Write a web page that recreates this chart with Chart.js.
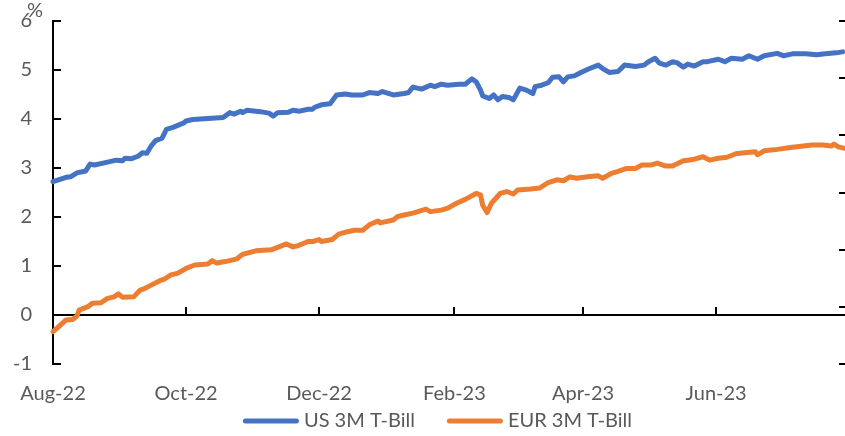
<!DOCTYPE html>
<html><head><meta charset="utf-8">
<script src="https://cdn.jsdelivr.net/npm/chart.js@4.4.0/dist/chart.umd.min.js"></script>
<style>
html,body{margin:0;padding:0;overflow:hidden;background:#fff;width:845px;height:436px;}
#wrap{position:relative;width:875px;height:436px;}
</style></head><body>
<div id="wrap"><canvas id="c"></canvas></div>
<script>
// x values are days since 1 Aug 2022
const tickDays=[0,61,122,184,243,304];
const tickLabels=['Aug-22','Oct-22','Dec-22','Feb-23','Apr-23','Jun-23'];
const seriesNames=['US 3M T-Bill','EUR 3M T-Bill'];
const usDays=[0,6,8,11,15,17,19,24,29,32,33,36,39,41,43,45,47,50,52,55,60,61,64,71,78,81,83,86,87,89,95,99,101,103,108,110,113,117,119,120,123,127,130,134,137,142,145,149,151,156,161,163,165,169,173,175,178,181,186,189,192,194,196,197,200,202,204,206,209,211,214,217,220,221,224,227,229,232,234,236,239,242,246,250,252,255,259,262,267,271,273,276,278,281,284,286,289,291,294,298,300,305,308,311,316,319,323,326,332,335,339,345,350,354,359,362];
const usVals=[2.72,2.81,2.82,2.90,2.94,3.08,3.06,3.11,3.16,3.15,3.20,3.19,3.24,3.31,3.30,3.45,3.56,3.61,3.79,3.83,3.92,3.96,3.99,4.01,4.03,4.13,4.10,4.16,4.13,4.18,4.15,4.12,4.06,4.13,4.14,4.18,4.16,4.20,4.20,4.24,4.29,4.31,4.49,4.51,4.49,4.49,4.54,4.52,4.56,4.49,4.52,4.54,4.65,4.61,4.69,4.66,4.71,4.69,4.71,4.71,4.82,4.76,4.59,4.47,4.42,4.49,4.39,4.46,4.44,4.39,4.63,4.59,4.52,4.66,4.69,4.74,4.85,4.86,4.76,4.86,4.88,4.95,5.03,5.10,5.03,4.95,4.97,5.10,5.07,5.10,5.17,5.24,5.14,5.10,5.17,5.15,5.06,5.12,5.08,5.17,5.17,5.22,5.17,5.24,5.22,5.29,5.22,5.29,5.34,5.29,5.33,5.33,5.31,5.33,5.35,5.37];
const eurDays=[0,3,6,9,11,12,16,18,22,25,28,30,32,37,40,42,45,49,51,54,57,61,65,71,73,75,79,84,87,93,100,103,107,110,112,117,119,122,123,128,131,135,138,142,145,149,150,156,158,161,165,171,173,178,181,185,189,194,196,197,199,201,205,208,211,213,219,223,227,231,234,237,240,245,250,252,256,259,263,267,270,274,277,281,284,289,291,294,298,301,305,309,313,317,322,323,326,332,338,344,348,353,357,358,360,363];
const eurVals=[-0.34,-0.22,-0.10,-0.09,-0.02,0.10,0.17,0.24,0.25,0.34,0.37,0.43,0.36,0.37,0.51,0.54,0.61,0.70,0.73,0.82,0.85,0.95,1.02,1.04,1.11,1.06,1.09,1.14,1.24,1.31,1.33,1.38,1.45,1.39,1.41,1.50,1.50,1.54,1.50,1.54,1.65,1.70,1.73,1.73,1.84,1.92,1.88,1.94,2.01,2.04,2.08,2.16,2.11,2.14,2.18,2.28,2.36,2.48,2.45,2.24,2.09,2.28,2.48,2.52,2.47,2.55,2.57,2.59,2.70,2.76,2.74,2.82,2.79,2.82,2.84,2.79,2.89,2.93,2.99,2.99,3.06,3.06,3.10,3.04,3.04,3.15,3.16,3.18,3.23,3.16,3.20,3.22,3.29,3.31,3.33,3.27,3.35,3.38,3.42,3.45,3.47,3.47,3.45,3.49,3.43,3.40];

const FONT='Lato, "Open Sans", sans-serif';
const FS=20;
const TXT='#595959';
const toXY=(d,v)=>d.map((x,i)=>({x:x,y:v[i]}));

const axisMarks={
  id:'axisMarks',
  beforeDatasetsDraw(chart){
    const {ctx,chartArea:a,scales}=chart;
    const x=scales.x,y=scales.y,y1=scales.y1;
    ctx.save();
    ctx.strokeStyle='#000';ctx.lineWidth=2;
    const y0=Math.round(y.getPixelForValue(0));
    ctx.beginPath();
    tickDays.forEach(d=>{ if(d>0){const px=Math.round(x.getPixelForValue(d));ctx.moveTo(px,y0);ctx.lineTo(px,y0-8);} });
    y.ticks.forEach(t=>{const py=Math.round(y.getPixelForValue(t.value));ctx.moveTo(a.left,py);ctx.lineTo(a.left+8,py);});
    y1.ticks.forEach(t=>{const py=Math.round(y1.getPixelForValue(t.value));ctx.moveTo(a.right,py);ctx.lineTo(a.right-8,py);});
    ctx.stroke();
    ctx.restore();
  },
  afterDraw(chart){
    const ctx=chart.ctx;
    ctx.save();
    ctx.font=FS+'px '+FONT;ctx.fillStyle=TXT;ctx.textBaseline='top';ctx.textAlign='left';
    ctx.fillText('%',27,1);
    // legend
    const ds=chart.data.datasets;
    const lineLen=56,gapTxt=5,gapItem=32,yc=421;
    const widths=ds.map(d=>ctx.measureText(d.label).width);
    let total=0;widths.forEach((w,i)=>{total+=lineLen+gapTxt+w+(i<widths.length-1?gapItem:0);});
    let xc=chart.width/2-total/2;
    ctx.textBaseline='middle';
    ds.forEach((d,i)=>{
      ctx.strokeStyle=d.borderColor;ctx.lineWidth=5;ctx.lineCap='round';
      ctx.beginPath();ctx.moveTo(xc+2.5,yc);ctx.lineTo(xc+lineLen-2.5,yc);ctx.stroke();
      ctx.fillStyle=TXT;ctx.fillText(d.label,xc+lineLen+gapTxt,yc);
      xc+=lineLen+gapTxt+widths[i]+gapItem;
    });
    ctx.restore();
  }
};

new Chart(document.getElementById('c'),{
  type:'line',
  data:{datasets:[
    {label:seriesNames[0],data:toXY(usDays,usVals),borderColor:'#4472C4',backgroundColor:'#4472C4',borderWidth:5,pointRadius:0,tension:0,borderCapStyle:'round',borderJoinStyle:'round',clip:false},
    {label:seriesNames[1],data:toXY(eurDays,eurVals),borderColor:'#ED7D31',backgroundColor:'#ED7D31',borderWidth:5,pointRadius:0,tension:0,borderCapStyle:'round',borderJoinStyle:'round',clip:false}
  ]},
  options:{
    responsive:true,maintainAspectRatio:false,animation:false,
    layout:{padding:{left:0,right:0,top:21,bottom:30}},
    plugins:{legend:{display:false},tooltip:{enabled:false}},
    scales:{
      x:{type:'linear',min:0,max:364,
        afterBuildTicks:s=>{s.ticks=tickDays.map(v=>({value:v}));},
        afterFit:s=>{s.paddingLeft=0;s.paddingRight=0;s.height=42;},
        ticks:{callback:v=>tickLabels[tickDays.indexOf(v)],autoSkip:false,maxRotation:0,padding:18,color:TXT,font:{family:FONT,size:FS}},
        grid:{display:false,drawTicks:false},border:{display:false}},
      y:{min:-1,max:6,
        afterFit:s=>{s.width=53;s.paddingTop=0;s.paddingBottom=0;},
        ticks:{stepSize:1,padding:21,color:TXT,font:{family:FONT,size:FS}},
        grid:{drawTicks:false,color:c=>c.tick&&c.tick.value===0?'#000':'rgba(0,0,0,0)',lineWidth:2},
        border:{display:true,color:'#000',width:2}},
      y1:{position:'right',min:0,max:6,
        afterFit:s=>{s.width=28;s.paddingTop=0;s.paddingBottom=0;},
        ticks:{stepSize:1,display:false},
        grid:{display:false,drawTicks:false},
        border:{display:true,color:'#000',width:2}}
    }
  },
  plugins:[axisMarks]
});
</script>
</body></html>
